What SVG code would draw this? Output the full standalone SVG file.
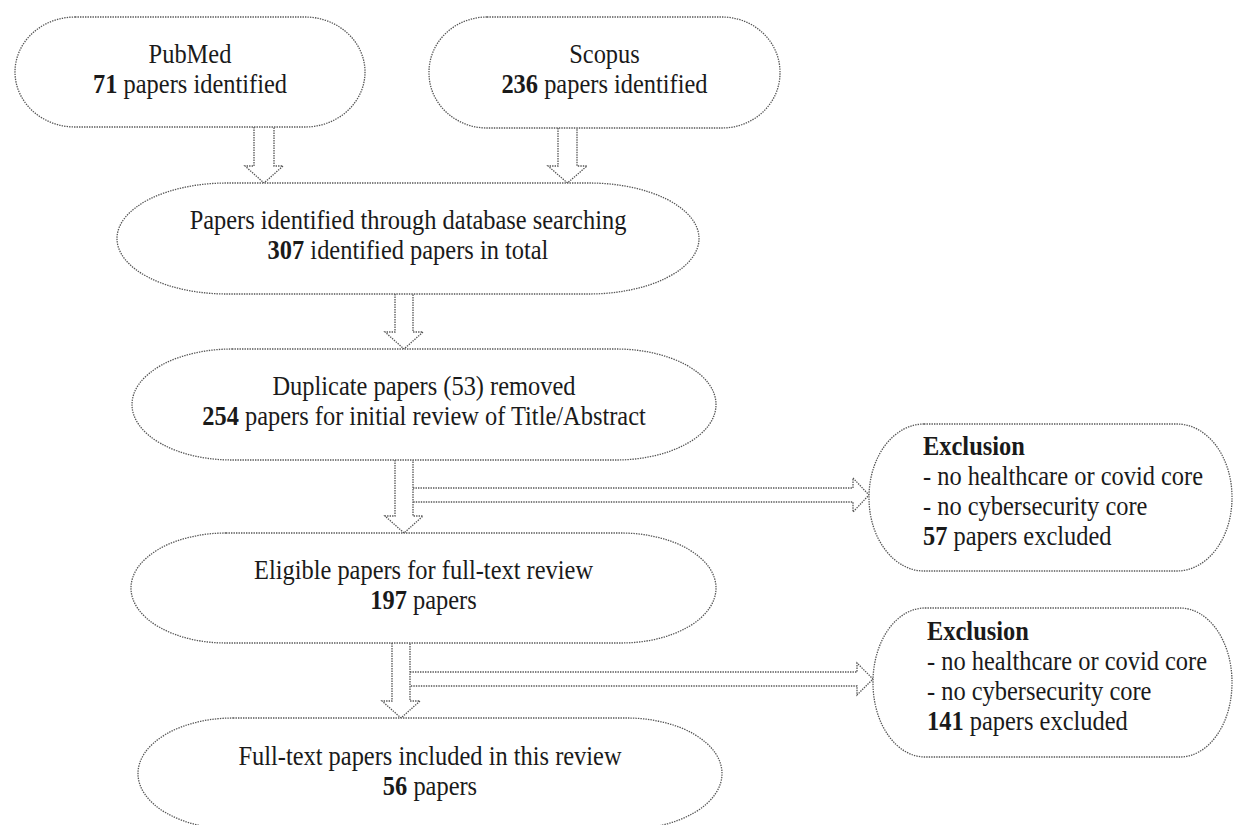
<svg xmlns="http://www.w3.org/2000/svg" width="1234" height="825" viewBox="0 0 1234 825">
<style>
.n{fill:#fff;stroke:#555;stroke-width:1.3;stroke-dasharray:1.4 1.1}
.c{fill:none;stroke:#555;stroke-width:1.3;stroke-dasharray:1.4 1.1;stroke-linejoin:miter}
.t{font-family:"Liberation Serif","Times New Roman",serif;font-size:27px;fill:#1a1a1a}
.m{text-anchor:middle}
.b{font-weight:bold}
</style>
<rect width="1234" height="825" fill="#fff"/>
<g id="connectors">
<path class="c" d="M254,127 V166 H245 L264,183 L283,166 H274 V127"/>
<path class="c" d="M558,128 V166 H548 L567.5,183 L587,166 H577 V128"/>
<path class="c" d="M395,294 V332 H385 L404,349 L423,332 H413 V294"/>
<path class="c" d="M395,460 V516 H385 L404,533 L423,516 H413 V460"/>
<path class="c" d="M392,643 V701 H382 L401,718 L420,701 H410 V643"/>
<path class="c" d="M413,488 H853 V478 L869,495 L853,512 V502 H413"/>
<path class="c" d="M410,672 H857 V663 L873,679 L857,695 V686 H410"/>
</g>
<g id="pubmed">
<rect class="n" x="15" y="17" width="350" height="110" rx="60" ry="55"/>
<g transform="matrix(0.905 0 0 1 18.05 0)">
<text class="t m" x="190" y="63">PubMed</text>
<text class="t m" x="190" y="93"><tspan class="b">71</tspan> papers identified</text>
</g>
</g>
<g id="scopus">
<rect class="n" x="429" y="17" width="351" height="111" rx="58" ry="55"/>
<g transform="matrix(0.905 0 0 1 57.43 0)">
<text class="t m" x="604.5" y="63">Scopus</text>
<text class="t m" x="604.5" y="93"><tspan class="b">236</tspan> papers identified</text>
</g>
</g>
<g id="identified">
<rect class="n" x="117" y="183" width="582" height="111" rx="110" ry="55.5"/>
<g transform="matrix(0.905 0 0 1 38.76 0)">
<text class="t m" x="408" y="229">Papers identified through database searching</text>
<text class="t m" x="408" y="259"><tspan class="b">307</tspan> identified papers in total</text>
</g>
</g>
<g id="duplicates">
<rect class="n" x="132" y="349" width="584" height="111" rx="100" ry="55.5"/>
<g transform="matrix(0.905 0 0 1 40.28 0)">
<text class="t m" x="424" y="395">Duplicate papers (53) removed</text>
<text class="t m" x="424" y="425"><tspan class="b">254</tspan> papers for initial review of Title/Abstract</text>
</g>
</g>
<g id="eligible">
<rect class="n" x="131" y="533" width="585" height="110" rx="95" ry="55"/>
<g transform="matrix(0.905 0 0 1 40.23 0)">
<text class="t m" x="423.5" y="579">Eligible papers for full-text review</text>
<text class="t m" x="423.5" y="609"><tspan class="b">197</tspan> papers</text>
</g>
</g>
<g id="included">
<rect class="n" x="138" y="718" width="584" height="111" rx="95" ry="55.5"/>
<g transform="matrix(0.905 0 0 1 40.85 0)">
<text class="t m" x="430" y="765">Full-text papers included in this review</text>
<text class="t m" x="430" y="795"><tspan class="b">56</tspan> papers</text>
</g>
</g>
<g id="exclusion1">
<rect class="n" x="869" y="424" width="363" height="147" rx="55" ry="73"/>
<g transform="matrix(0.905 0 0 1 87.69 0)">
<text class="t b" x="923" y="455">Exclusion</text>
<text class="t" x="923" y="485">- no healthcare or covid core</text>
<text class="t" x="923" y="515">- no cybersecurity core</text>
<text class="t" x="923" y="545"><tspan class="b">57</tspan> papers excluded</text>
</g>
</g>
<g id="exclusion2">
<rect class="n" x="873" y="608" width="359" height="149" rx="52" ry="74"/>
<g transform="matrix(0.905 0 0 1 88.07 0)">
<text class="t b" x="927" y="640">Exclusion</text>
<text class="t" x="927" y="670">- no healthcare or covid core</text>
<text class="t" x="927" y="700">- no cybersecurity core</text>
<text class="t" x="927" y="730"><tspan class="b">141</tspan> papers excluded</text>
</g>
</g>
</svg>
